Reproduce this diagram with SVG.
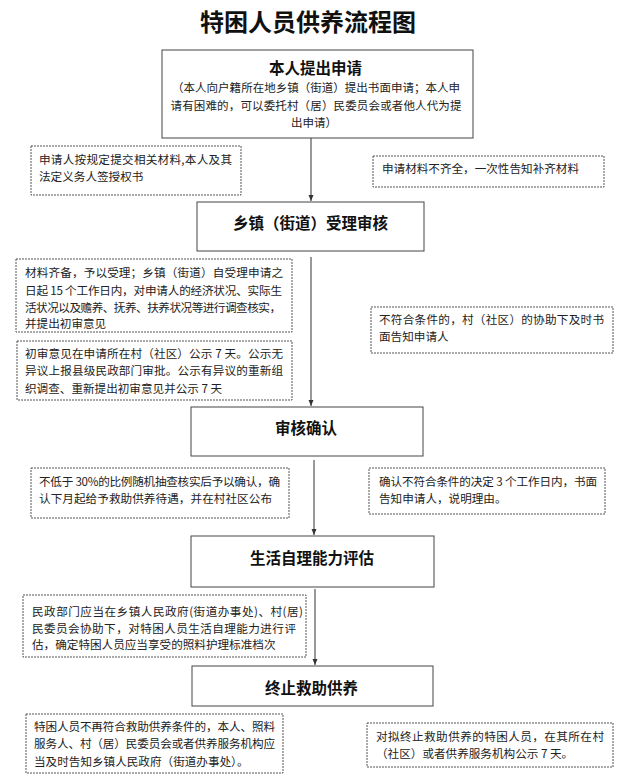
<svg xmlns="http://www.w3.org/2000/svg" width="623" height="778" viewBox="0 0 623 778">
<style>
.bg{fill:#fff}
.box{fill:#fff;stroke:#444;stroke-width:1}
.note{fill:#fff;stroke:#555;stroke-width:1;stroke-dasharray:2 1}
.title{font-family:"Noto Sans CJK SC",sans-serif;font-size:24px;font-weight:bold;fill:#111;text-anchor:middle}
.bt{font-family:"Noto Sans CJK SC",sans-serif;font-size:15.5px;font-weight:bold;fill:#111;text-anchor:middle}
.st{font-family:"Noto Sans CJK SC",sans-serif;font-size:11.5px;fill:#222;text-anchor:middle}
.nt{font-family:"Noto Sans CJK SC",sans-serif;font-size:11.6px;fill:#222}
.conn{stroke:#333;stroke-width:1;fill:none}
</style>
<defs>
<marker id="arr" viewBox="0 0 6 6" refX="6" refY="3" markerWidth="6" markerHeight="6" markerUnits="userSpaceOnUse" orient="auto">
<path d="M0,0.5 L6,3 L0,5.5 Z" fill="#333"/>
</marker>
</defs>
<rect class="bg" x="0" y="0" width="623" height="778"/>
<text class="title" x="308" y="31">特困人员供养流程图</text>

<g id="connectors">
<line class="conn" x1="311" y1="138" x2="311" y2="201" marker-end="url(#arr)"/>
<line class="conn" x1="311" y1="257" x2="311" y2="406" marker-end="url(#arr)"/>
<line class="conn" x1="314" y1="460" x2="314" y2="535" marker-end="url(#arr)"/>
<line class="conn" x1="315" y1="589" x2="315" y2="665" marker-end="url(#arr)"/>
</g>

<g id="apply">
<rect class="box" x="162" y="50" width="311" height="88"/>
<text class="bt" x="315.5" y="74">本人提出申请</text>
<text class="st" x="316" y="92" textLength="288" lengthAdjust="spacing">（本人向户籍所在地乡镇（街道）提出书面申请；本人申</text>
<text class="st" x="316" y="109.6" textLength="291" lengthAdjust="spacing">请有困难的，可以委托村（居）民委员会或者他人代为提</text>
<text class="st" x="314" y="127">出申请）</text>
</g>

<g id="note-materials">
<rect class="note" x="31" y="146" width="210" height="49"/>
<text class="nt" x="39" y="164.4" textLength="193" lengthAdjust="spacing">申请人按规定提交相关材料,本人及其</text>
<text class="nt" x="39" y="181.4">法定义务人签授权书</text>
</g>

<g id="note-incomplete">
<rect class="note" x="373" y="156" width="231" height="31"/>
<text class="nt" x="382" y="173.4" textLength="197" lengthAdjust="spacing">申请材料不齐全，一次性告知补齐材料</text>
</g>

<g id="accept">
<rect class="box" x="197" y="202" width="227" height="49"/>
<text class="bt" x="310.5" y="229">乡镇（街道）受理审核</text>
</g>

<g id="note-investigate">
<rect class="note" x="16" y="259" width="276" height="73"/>
<text class="nt" x="25" y="277" textLength="258" lengthAdjust="spacing">材料齐备，予以受理；乡镇（街道）自受理申请之</text>
<text class="nt" x="25" y="294.5" textLength="257" lengthAdjust="spacing">日起 15 个工作日内，对申请人的经济状况、实际生</text>
<text class="nt" x="25" y="312" textLength="256" lengthAdjust="spacing">活状况以及赡养、抚养、扶养状况等进行调查核实，</text>
<text class="nt" x="25" y="327.7">并提出初审意见</text>
</g>

<g id="note-publicity">
<rect class="note" x="17" y="341" width="275" height="59"/>
<text class="nt" x="25" y="358.4" textLength="258" lengthAdjust="spacing">初审意见在申请所在村（社区）公示 7 天。公示无</text>
<text class="nt" x="25" y="375" textLength="258" lengthAdjust="spacing">异议上报县级民政部门审批。公示有异议的重新组</text>
<text class="nt" x="25" y="392.7">织调查、重新提出初审意见并公示 7 天</text>
</g>

<g id="note-unqualified">
<rect class="note" x="371" y="307" width="242" height="46"/>
<text class="nt" x="379" y="324.4" textLength="225" lengthAdjust="spacing">不符合条件的，村（社区）的协助下及时书</text>
<text class="nt" x="379" y="341">面告知申请人</text>
</g>

<g id="confirm">
<rect class="box" x="191" y="407" width="232" height="49"/>
<text class="bt" x="306" y="434">审核确认</text>
</g>

<g id="note-check">
<rect class="note" x="31" y="468" width="258" height="50"/>
<text class="nt" x="39" y="486" textLength="241" lengthAdjust="spacing">不低于 30%的比例随机抽查核实后予以确认，确</text>
<text class="nt" x="39" y="502.7" textLength="233" lengthAdjust="spacing">认下月起给予救助供养待遇，并在村社区公布</text>
</g>

<g id="note-reject">
<rect class="note" x="369" y="468" width="236" height="46"/>
<text class="nt" x="379" y="486" textLength="218" lengthAdjust="spacing">确认不符合条件的决定 3 个工作日内，书面</text>
<text class="nt" x="379" y="502.7">告知申请人，说明理由。</text>
</g>

<g id="assess">
<rect class="box" x="191" y="536" width="243" height="51"/>
<text class="bt" x="312" y="564">生活自理能力评估</text>
</g>

<g id="note-assess">
<rect class="note" x="23" y="595" width="283" height="62"/>
<text class="nt" x="32" y="616.4" textLength="271" lengthAdjust="spacing">民政部门应当在乡镇人民政府(街道办事处)、村(居)</text>
<text class="nt" x="32" y="633.4" textLength="264" lengthAdjust="spacing">民委员会协助下，对特困人员生活自理能力进行评</text>
<text class="nt" x="32" y="649.4">估，确定特困人员应当享受的照料护理标准档次</text>
</g>

<g id="terminate">
<rect class="box" x="192" y="666" width="241" height="40"/>
<text class="bt" x="311.5" y="694">终止救助供养</text>
</g>

<g id="note-terminate">
<rect class="note" x="26" y="714" width="257" height="59"/>
<text class="nt" x="34" y="731" textLength="241" lengthAdjust="spacing">特困人员不再符合救助供养条件的，本人、照料</text>
<text class="nt" x="34" y="748.4" textLength="241" lengthAdjust="spacing">服务人、村（居）民委员会或者供养服务机构应</text>
<text class="nt" x="34" y="766">当及时告知乡镇人民政府（街道办事处）。</text>
</g>

<g id="note-terminate-publicity">
<rect class="note" x="367" y="723" width="246" height="44"/>
<text class="nt" x="376" y="741" textLength="228" lengthAdjust="spacing">对拟终止救助供养的特困人员，在其所在村</text>
<text class="nt" x="376" y="758.4">（社区）或者供养服务机构公示 7 天。</text>
</g>
</svg>
